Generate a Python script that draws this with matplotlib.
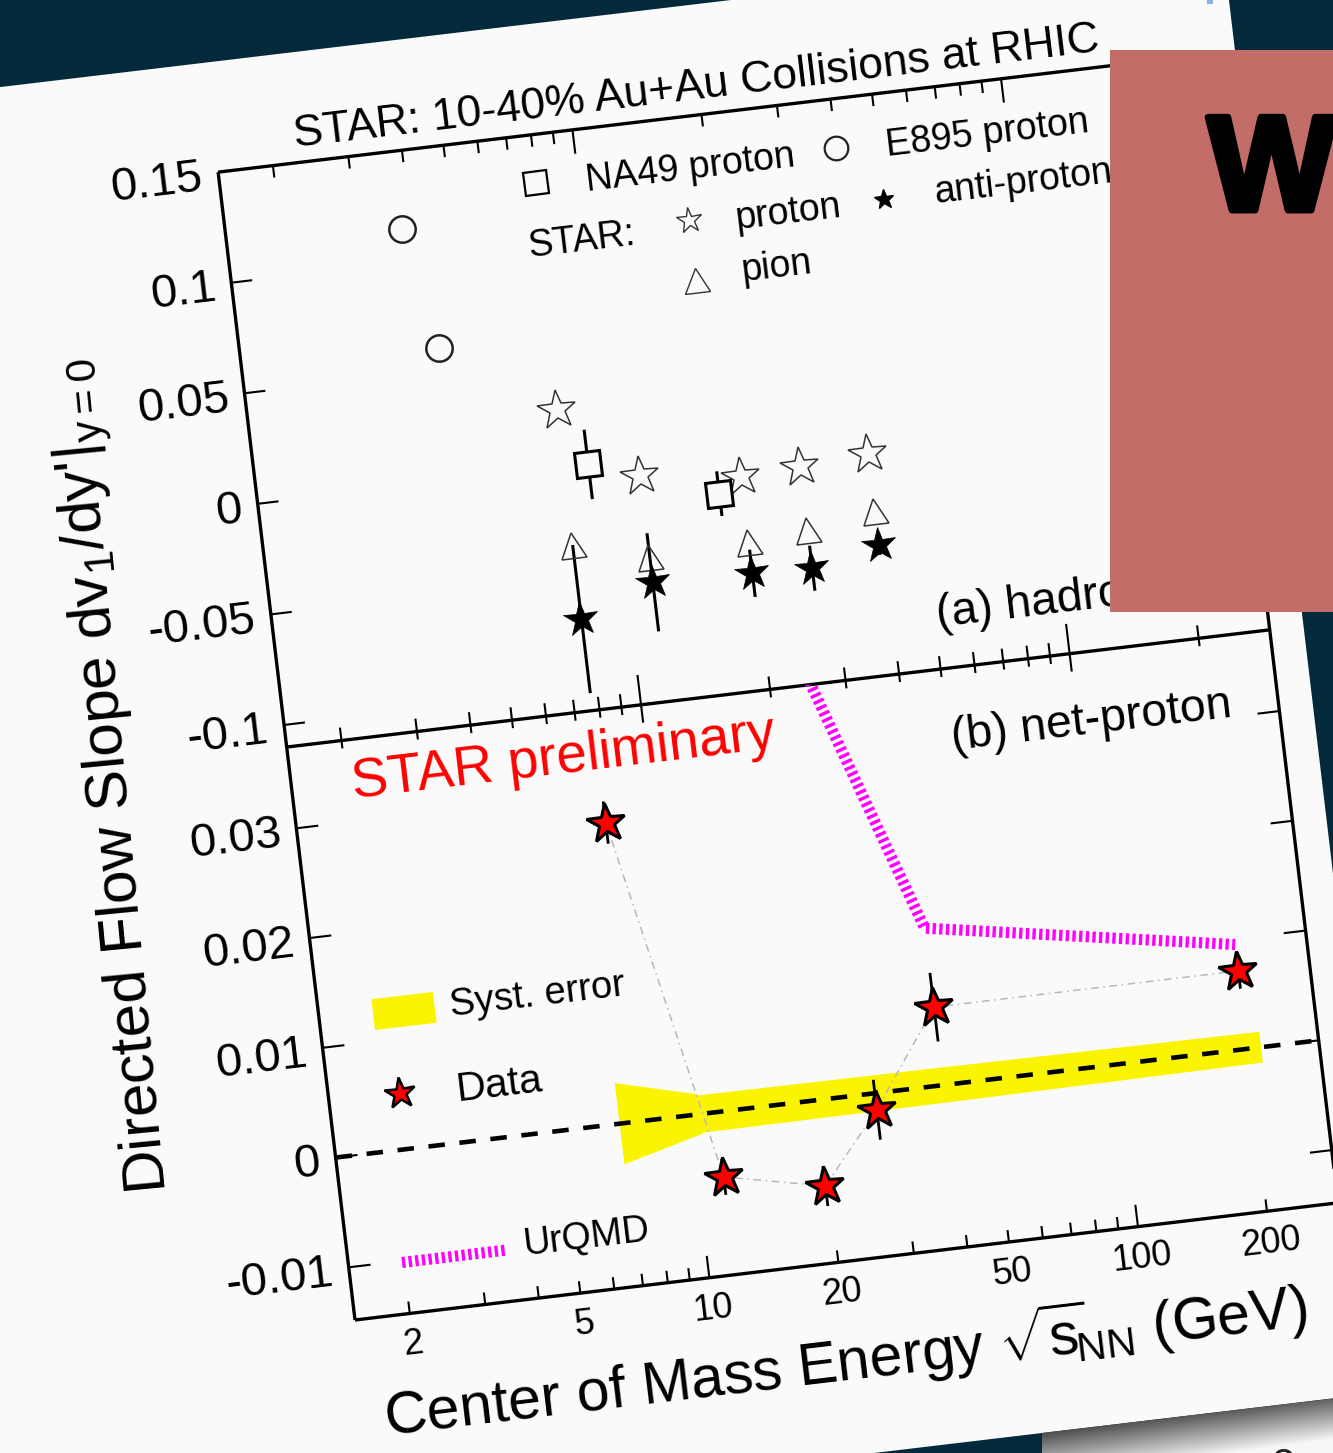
import numpy as np
import matplotlib
matplotlib.use("Agg")
import matplotlib.pyplot as plt
import matplotlib.transforms as mtransforms
import matplotlib.patheffects as pe
from matplotlib import ticker
from matplotlib.markers import MarkerStyle
from matplotlib.patches import Polygon, Rectangle

plt.rcParams['font.family'] = ['Liberation Sans', 'DejaVu Sans']
plt.rcParams['mathtext.fontset'] = 'custom'
plt.rcParams['mathtext.rm'] = 'Liberation Sans'
plt.rcParams['mathtext.it'] = 'Liberation Sans:italic'
plt.rcParams['mathtext.bf'] = 'Liberation Sans:bold'

#################################################
################ DATA ###########################
#################################################

# (a) hadrons
e895_x = [3.8, 4.3]
e895_y = [0.115, 0.060]

na49_x = [8.8, 17.3]
na49_y = [0.000, -0.020]
na49_err = [0.0150, 0.0094]

star_x = [7.7, 11.5, 19.6, 27, 39]
proton_y = [0.026, -0.0078, -0.0138, -0.0125, -0.0101]
pion_y = [-0.0355, -0.0451, -0.0434, -0.0414, -0.0363]
pbar_y = [-0.0686, -0.0560, -0.0573, -0.0582, -0.0512]
pbar_err = [0.0328, 0.0215, 0.0100, 0.0095, 0.0040]

# (b) net-proton
net_x = [7.7, 11.5, 19.6, 27, 39, 200]
net_y = [0.0272, -0.0059, -0.0078, -0.0015, 0.0071, 0.0071]
net_err = [0.0018, 0.0015, 0.0017, 0.0026, 0.0030, 0.0015]

syst_x = [6.85, 10.56, 10.56, 39, 215]
syst_half = [0.0037, 0.0018, 0.0017, 0.0016, 0.0014]

urqmd_x = [19.6, 39, 200]
urqmd_y = [0.0497, 0.0143, 0.0095]

x_range = (1.49, 293)
ya_range = (-0.11, 0.15)
yb_range = (-0.0148, 0.0374)
ya_ticks = [-0.1, -0.05, 0, 0.05, 0.1, 0.15]
ya_labels = ['-0.1', '-0.05', '0', '0.05', '0.1', '0.15']
yb_ticks = [-0.01, 0, 0.01, 0.02, 0.03]
yb_labels = ['-0.01', '0', '0.01', '0.02', '0.03']
x_ticks = [2, 5, 10, 20, 50, 100, 200]
x_labels = ['2', '5', '10', '20', '50', '100', '200']

#################################################
################ LAYOUT #########################
#################################################
W, H = 1333, 1453
TILT = 6.8                  # the printed page sits rotated on the slide
X0, Y0 = 355, 1320          # lower-left corner of panel (b), pixels
PW, HB, HA = 990, 577, 579  # panel width, panel (b) height, panel (a) height

fig = plt.figure(figsize=(W / 100, H / 100), dpi=100, facecolor='#03293a')
bg = fig.add_axes([0, 0, 1, 1])
bg.set_xlim(0, W)
bg.set_ylim(H, 0)
bg.axis('off')

# hidden axes that only carry the scales of the two panels
axa = fig.add_axes([0, 0, 1, 1])
axa.set_xscale('log')
axa.set_xlim(*x_range)
axa.set_ylim(*ya_range)
axa.set_visible(False)

axb = fig.add_axes([0, 0, 1, 1])
axb.set_xscale('log')
axb.set_xlim(*x_range)
axb.set_ylim(*yb_range)
axb.set_visible(False)

c, s = np.cos(np.radians(TILT)), np.sin(np.radians(TILT))
page = mtransforms.Affine2D(np.array([[c, -s, X0], [-s, -c, Y0], [0, 0, 1.0]])) + bg.transData

ta = axa.transScale + axa.transLimits + mtransforms.Affine2D().scale(PW, HA).translate(0, HB) + page
tb = axb.transScale + axb.transLimits + mtransforms.Affine2D().scale(PW, HB) + page


def u_of(x):
    return (axb.transScale + axb.transLimits).transform((x, 1e-9))[0] * PW


def va_of(y):
    return HB + (axa.transScale + axa.transLimits).transform((x_range[0], y))[1] * HA


def vb_of(y):
    return (axb.transScale + axb.transLimits).transform((x_range[0], y))[1] * HB


rot = mtransforms.Affine2D().rotate_deg(TILT)


def mk(m):
    return MarkerStyle(m, transform=rot)


def seg(u0, v0, u1, v1, lw=1.5, z=3):
    bg.plot([u0, u1], [v0, v1], transform=page, color='k', lw=lw,
            solid_capstyle='butt', zorder=z)


def ptext(u, v, txt, size, ha='left', va='baseline', **kw):
    bg.text(u, v, txt, transform=page, rotation=TILT, rotation_mode='anchor',
            ha=ha, va=va, fontsize=size, **kw)


def pxtext(x, y, txt, size, ha='left', va='baseline', rotation=TILT, **kw):
    bg.text(x, y, txt, rotation=rotation, rotation_mode='anchor',
            ha=ha, va=va, fontsize=size, **kw)


#################################################
################ SLIDE ##########################
#################################################
paper = Polygon([(-100, 99), (1222, -58.5), (1394.6, 1391), (-100, 1569)],
                closed=True, fc='#fafafa', ec='none', zorder=0)
bg.add_patch(paper)

# shadowed page peeking out at the bottom right
gx0, gx1, gy0, gy1 = 1040, 1333, 1390, 1453
yy, xx = np.mgrid[gy0:gy1, gx0:gx1] + 0.5
d = yy - (1433 - 0.119 * (xx - 1042))
val = np.clip(0.30 + 0.65 * np.clip(d / 45, 0, 1) + 0.08 * (xx - 1042) / 291, 0, 0.97)
im = bg.imshow(np.dstack([val] * 3), extent=(gx0, gx1, gy1, gy0), aspect='auto',
               interpolation='bilinear', zorder=1)
im.set_clip_path(Polygon([(1042, 1433), (1333, 1398.5), (1333, 1453), (1042, 1453)],
                         transform=bg.transData))
pxtext(1272, 1478, '2', 30, rotation=0, color='#222222', zorder=2)

#################################################
################ FRAMES AND TICKS ###############
#################################################
seg(0, 0, PW, 0, lw=2.4)
seg(0, 0, 0, HB + HA, lw=2.4)
seg(PW, 0, PW, HB + HA, lw=2.4)
seg(0, HB, PW, HB, lw=2.4)
seg(0, HB + HA, PW, HB + HA, lw=2.4)

major = [t for t in ticker.LogLocator(base=10, subs=(1.0,)).tick_values(*x_range)
         if x_range[0] <= t <= x_range[1]]
minor = [t for t in ticker.LogLocator(base=10, subs=np.arange(2, 10)).tick_values(*x_range)
         if x_range[0] <= t <= x_range[1] and t not in major]

for x in minor:
    u = u_of(x)
    seg(u, 0, u, 12)
    seg(u, HB, u, HB - 8)
    seg(u, HB, u, HB + 13)
    seg(u, HB + HA, u, HB + HA - 12)
for x in major:
    u = u_of(x)
    seg(u, 0, u, 22)
    seg(u, HB, u, HB - 18)
    seg(u, HB, u, HB + 30)
    seg(u, HB + HA, u, HB + HA - 24)

for x, lab in zip(x_ticks, x_labels):
    ptext(u_of(x), -14, lab, 26, ha='center', va='top')

for y, lab in zip(ya_ticks, ya_labels):
    v = va_of(y)
    if y < ya_range[1]:
        seg(0, v, 21, v)
        seg(PW, v, PW - 21, v)
    ptext(-16, v - 4, lab, 34, ha='right', va='center')

for y, lab in zip(yb_ticks, yb_labels):
    v = vb_of(y)
    seg(0, v, 22, v)
    seg(PW, v, PW - 22, v)
    ptext(-16, v - 4, lab, 34, ha='right', va='center')

#################################################
################ PANEL (a) ######################
#################################################
for x, y, e in zip(na49_x, na49_y, na49_err):
    bg.plot([x, x], [y - e, y + e], transform=ta, color='k', lw=2.2, zorder=4)
for x, y, e in zip(star_x, pbar_y, pbar_err):
    bg.plot([x, x], [y - e, y + e], transform=ta, color='k', lw=2.2, zorder=4)

bg.plot(e895_x, e895_y, transform=ta, ls='none', marker=mk('o'), ms=19,
        mfc='none', mec='#222222', mew=1.8, zorder=5)
bg.plot(star_x, proton_y, transform=ta, ls='none', marker=mk('*'), ms=29,
        mfc='none', mec='#333333', mew=1.1, zorder=5)
bg.plot(star_x, pion_y, transform=ta, ls='none', marker=mk('^'), ms=18.5,
        mfc='none', mec='#333333', mew=1.1, zorder=5)
bg.plot(na49_x, na49_y, transform=ta, ls='none', marker=mk('s'), ms=18,
        mfc='#fafafa', mec='k', mew=2.2, zorder=6)
bg.plot(star_x, pbar_y, transform=ta, ls='none', marker=mk('*'), ms=26,
        mfc='k', mec='k', mew=0.5, zorder=6)

# legend of panel (a)
bg.plot([536], [183], ls='none', marker=mk('s'), ms=17, mfc='none', mec='k', mew=1.6, zorder=5)
bg.plot([836], [148], ls='none', marker=mk('o'), ms=17, mfc='none', mec='#222222', mew=1.6, zorder=5)
bg.plot([689], [220], ls='none', marker=mk('*'), ms=19, mfc='none', mec='#333333', mew=1.0, zorder=5)
bg.plot([884], [199], ls='none', marker=mk('*'), ms=15, mfc='k', mec='k', zorder=5)
bg.plot([696], [280], ls='none', marker=mk('^'), ms=18, mfc='none', mec='#333333', mew=1.0, zorder=5)
pxtext(587, 191, 'NA49 proton', 27)
pxtext(887, 156, 'E895 proton', 27)
pxtext(529, 257, 'STAR:', 27)
pxtext(737, 229, 'proton', 27)
pxtext(935, 203, 'anti-proton', 27)
pxtext(743, 281, 'pion', 27)
pxtext(938, 627, '(a) hadrons', 33.5)

pxtext(295, 147, 'STAR: 10-40% Au+Au Collisions at RHIC', 32)

#################################################
################ PANEL (b) ######################
#################################################
band = np.column_stack([syst_x + syst_x[::-1],
                        list(-np.array(syst_half)) + syst_half[::-1]])
bg.add_patch(Polygon(band, closed=True, transform=tb, fc='#fbf400', ec='none', zorder=3))

bg.plot(x_range, [0, 0], transform=tb, color='k', lw=3.3, dashes=(3.6, 3.2), zorder=4)

# the UrQMD curve leaves the panel through its upper edge
clip = Polygon([(0, 0), (PW, 0), (PW, HB), (0, HB)], closed=True, transform=page)
uq, = bg.plot(urqmd_x, urqmd_y, transform=tb, color='#ff00ff', lw=8, dashes=(0.3, 0.3),
              solid_capstyle='butt', dash_capstyle='butt', zorder=4)
uq.set_clip_path(clip)

bg.plot(net_x, net_y, transform=tb, color='#b8b8b8', lw=1.1, ls=(0, (5, 3, 1, 3)), zorder=4)
for x, y, e in zip(net_x, net_y, net_err):
    bg.plot([x, x], [y - e, y + e], transform=tb, color='k', lw=2.0, zorder=5)
bg.plot(net_x, net_y, transform=tb, ls='none', marker=mk('*'), ms=29,
        mfc='#ff0000', mec='k', mew=2.2, zorder=6)

pxtext(953, 750, '(b) net-proton', 33.5)
pxtext(354, 798, 'STAR preliminary', 39.5, color='#ff0000')

# legend of panel (b)
ctr = np.array([404, 1011])
ax_u = np.array([c, -s])
ax_v = np.array([-s, -c])
sw = [ctr - 31 * ax_u - 15.5 * ax_v, ctr + 31 * ax_u - 15.5 * ax_v,
      ctr + 31 * ax_u + 15.5 * ax_v, ctr - 31 * ax_u + 15.5 * ax_v]
bg.add_patch(Polygon(sw, closed=True, fc='#fbf400', ec='none', zorder=3))
pxtext(451, 1016, 'Syst. error', 27.5)
bg.plot([400], [1093], ls='none', marker=mk('*'), ms=23, mfc='#ff0000', mec='k', mew=1.8, zorder=6)
pxtext(458, 1101, 'Data', 29.5)
bg.plot([402, 507], [1262.5, 1250], color='#ff00ff', lw=8, dashes=(0.3, 0.3),
        dash_capstyle='butt', zorder=4)
pxtext(524, 1255, 'UrQMD', 27)

#################################################
################ AXIS TITLES ####################
#################################################
pxtext(386, 1436, r'Center of Mass Energy $\sqrt{\mathrm{s}}_{\!\!\mathrm{NN}}$ (GeV)', 42.5)
pxtext(167, 1192, r"Directed Flow Slope dv$_{\mathrm{1}}$/dy'|$_{\mathrm{y=0}}$", 43.5,
       rotation=90 + 5.5)

#################################################
################ OVERLAY BOX ####################
#################################################
bg.add_patch(Rectangle((1110, 50), 260, 562, fc='#c26d68', ec='none', zorder=10))
pxtext(1208, 210, 'W', 97, rotation=0, fontweight='bold', color='k', zorder=11,
       path_effects=[pe.withStroke(linewidth=5, foreground='k')])
bg.add_patch(Rectangle((1207, 0), 6, 4, fc='#8ab0e0', ec='none', zorder=2))

bg.set_xlim(0, W)
bg.set_ylim(H, 0)
fig.savefig('out.png', dpi=100, facecolor=fig.get_facecolor())
